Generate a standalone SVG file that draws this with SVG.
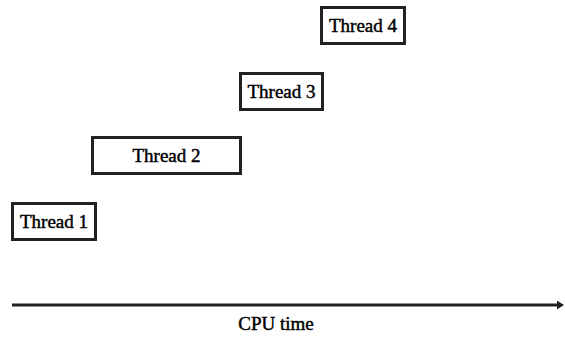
<svg xmlns="http://www.w3.org/2000/svg" width="565" height="337" viewBox="0 0 565 337">
<style>
.box{fill:#fff;stroke:#222;stroke-width:3}
.lbl{font-family:"Liberation Serif","Times New Roman",serif;font-size:19px;fill:#000;text-anchor:middle;stroke:#000;stroke-width:0.45}
</style>
<defs>
<marker id="ah" markerWidth="8" markerHeight="9" refX="1" refY="4.5" orient="auto" markerUnits="userSpaceOnUse">
<path d="M0,0 L7,4.5 L0,9 Z" fill="#222"/>
</marker>
</defs>
<rect width="565" height="337" fill="#fff"/>
<g id="thread1"><rect class="box" x="12.5" y="203.5" width="83" height="36"/><text class="lbl" x="54" y="228">Thread 1</text></g>
<g id="thread2"><rect class="box" x="92.5" y="137.5" width="148" height="36"/><text class="lbl" x="166.5" y="162">Thread 2</text></g>
<g id="thread3"><rect class="box" x="240.5" y="73.5" width="82" height="36"/><text class="lbl" x="281.5" y="98">Thread 3</text></g>
<g id="thread4"><rect class="box" x="321.5" y="7.5" width="83" height="36"/><text class="lbl" x="363" y="32">Thread 4</text></g>
<g id="connectors"><line x1="12" y1="305" x2="558" y2="305" stroke="#222" stroke-width="3" marker-end="url(#ah)"/></g>
<text class="lbl" x="276" y="330">CPU time</text>
</svg>
